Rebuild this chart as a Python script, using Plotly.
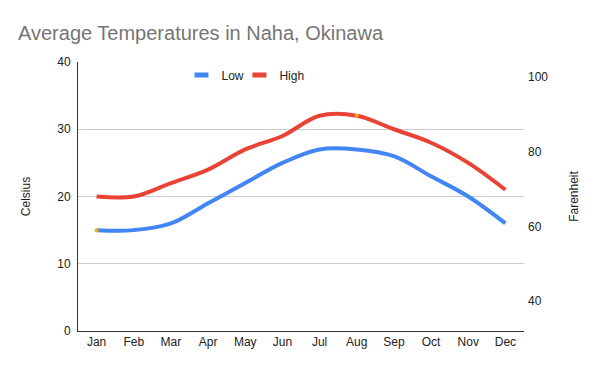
import plotly.graph_objects as go

months = ["Jan", "Feb", "Mar", "Apr", "May", "Jun", "Jul", "Aug", "Sep", "Oct", "Nov", "Dec"]
low_c = [15, 15, 16, 19, 22, 25, 27, 27, 26, 23, 20, 16]
high_c = [20, 20, 22, 24, 27, 29, 32, 32, 30, 28, 25, 21]
left_ticks = [0, 10, 20, 30, 40]
right_ticks = [40, 60, 80, 100]
highlight_x = ["Jan", "Aug"]
highlight_y = [low_c[0], high_c[7]]

BLUE = "#4285F4"
RED = "#EA4335"
FONT = "Liberation Sans, Arial, sans-serif"

fig = go.Figure()
fig.add_trace(go.Scatter(x=months, y=low_c, mode="lines", name="Low",
                         line=dict(color=BLUE, width=4, shape="spline", smoothing=1),
                         showlegend=False, hoverinfo="skip"))
fig.add_trace(go.Scatter(x=months, y=high_c, mode="lines", name="High",
                         line=dict(color=RED, width=4, shape="spline", smoothing=1),
                         showlegend=False, hoverinfo="skip"))
fig.add_trace(go.Scatter(x=highlight_x, y=highlight_y, mode="markers",
                         marker=dict(color="#F9B000", size=4), showlegend=False, hoverinfo="skip"))
# invisible trace to activate the Fahrenheit axis
fig.add_trace(go.Scatter(x=months, y=[c * 9 / 5 + 32 for c in high_c], yaxis="y2",
                         mode="lines", line=dict(width=0), opacity=0,
                         showlegend=False, hoverinfo="skip"))
# legend entries
for name, col, lg in [("Low", BLUE, "legend"), ("High", RED, "legend2")]:
    fig.add_trace(go.Scatter(x=[None], y=[None], mode="markers", name=name, legend=lg,
                             marker=dict(symbol="line-ew", size=10, color=col,
                                         line=dict(color=col, width=5))))

legend_common = dict(orientation="h", y=1.006, xanchor="left", yanchor="top",
                     font=dict(size=12, color="#222222", family=FONT), itemwidth=30,
                     bgcolor="rgba(0,0,0,0)")

fig.update_layout(
    width=600, height=371,
    margin=dict(l=78, r=76, t=62, b=40),
    paper_bgcolor="white", plot_bgcolor="white",
    font=dict(family=FONT, size=12, color="#222222"),
    title=dict(text="Average Temperatures in Naha, Okinawa", x=18 / 600, xref="container",
               xanchor="left", y=1 - 33 / 371, yref="container", yanchor="middle",
               font=dict(size=20, color="#757575", family=FONT)),
    legend=dict(x=0.232, **legend_common),
    legend2=dict(x=0.362, **legend_common),
    xaxis=dict(type="category", range=[-0.5, 11.5], showgrid=False, showline=True,
               linecolor="#333333", linewidth=1, ticks="", tickfont=dict(size=12, color="#222222"),
               fixedrange=True),
    yaxis=dict(range=[0, 40], tickvals=left_ticks, showgrid=True, gridcolor="#cccccc",
               gridwidth=1, zeroline=False, showline=True, linecolor="#333333", linewidth=1,
               title=dict(text="Celsius", font=dict(size=12, color="#222222"), standoff=24),
               tickfont=dict(size=12, color="#222222"), ticks="", ticklabelstandoff=4),
    yaxis2=dict(overlaying="y", side="right", range=[32, 104], tickvals=right_ticks,
                showgrid=False, zeroline=False, showline=False,
                title=dict(text="Farenheit", font=dict(size=12, color="#222222"), standoff=22),
                tickfont=dict(size=12, color="#222222"), ticks="", ticklabelstandoff=3),
)

fig.write_html("out.html", config={"displayModeBar": False},
               post_script="document.body.style.margin='0';")
